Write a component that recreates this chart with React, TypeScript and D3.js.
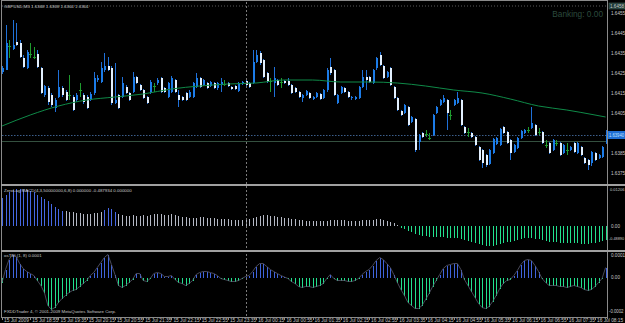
import React from 'react';
import * as d3 from 'd3';

const width = 625;
const height = 323;
const font = '"Liberation Sans", Arial, sans-serif';

// GBPUSD M5, 172 bars, 15 Jul 18:15 .. 16 Jul 08:30
const openPrices = [
  1.64255, 1.64265, 1.64385, 1.64370, 1.64405, 1.64400, 1.64325, 1.64275, 1.64345, 1.64330,
  1.64345, 1.64275, 1.64140, 1.64175, 1.64140, 1.64075, 1.64130, 1.64175, 1.64155, 1.64140,
  1.64130, 1.64115, 1.64165, 1.64140, 1.64130, 1.64115, 1.64150, 1.64215, 1.64205, 1.64265,
  1.64285, 1.64275, 1.64100, 1.64140, 1.64130, 1.64180, 1.64150, 1.64155, 1.64230, 1.64190,
  1.64165, 1.64130, 1.64150, 1.64185, 1.64200, 1.64225, 1.64175, 1.64130, 1.64155, 1.64215,
  1.64140, 1.64130, 1.64150, 1.64130, 1.64130, 1.64180, 1.64225, 1.64190, 1.64200, 1.64185,
  1.64200, 1.64175, 1.64190, 1.64195, 1.64200, 1.64180, 1.64185, 1.64160, 1.64195, 1.64210,
  1.64200, 1.64200, 1.64305, 1.64350, 1.64315, 1.64250, 1.64210, 1.64200, 1.64215, 1.64205,
  1.64210, 1.64210, 1.64190, 1.64175, 1.64155, 1.64125, 1.64140, 1.64150, 1.64120, 1.64130,
  1.64145, 1.64125, 1.64165, 1.64280, 1.64265, 1.64100, 1.64150, 1.64175, 1.64155, 1.64125,
  1.64120, 1.64125, 1.64180, 1.64230, 1.64230, 1.64200, 1.64275, 1.64340, 1.64285, 1.64230,
  1.64275, 1.64180, 1.64125, 1.64060, 1.64050, 1.64080, 1.64005, 1.64020, 1.63905, 1.63950,
  1.63945, 1.63925, 1.63940, 1.64050, 1.64090, 1.64105, 1.64115, 1.64040, 1.64090, 1.64100,
  1.64115, 1.63980, 1.63955, 1.63950, 1.63930, 1.63880, 1.63865, 1.63840, 1.63795, 1.63850,
  1.63895, 1.63890, 1.63980, 1.63955, 1.63915, 1.63855, 1.63875, 1.63925, 1.63950, 1.63965,
  1.63975, 1.63990, 1.63955, 1.63955, 1.63890, 1.63900, 1.63865, 1.63900, 1.63900, 1.63850,
  1.63865, 1.63865, 1.63900, 1.63850, 1.63880, 1.63825, 1.63815, 1.63800, 1.63850, 1.63825,
  1.63830, 1.63900,
];

const highPrices = [
  1.64285, 1.64490, 1.64415, 1.64515, 1.64500, 1.64415, 1.64340, 1.64365, 1.64400, 1.64380,
  1.64365, 1.64280, 1.64190, 1.64185, 1.64150, 1.64125, 1.64265, 1.64185, 1.64165, 1.64240,
  1.64140, 1.64150, 1.64200, 1.64150, 1.64140, 1.64155, 1.64255, 1.64240, 1.64305, 1.64350,
  1.64330, 1.64285, 1.64300, 1.64145, 1.64230, 1.64190, 1.64155, 1.64255, 1.64235, 1.64195,
  1.64170, 1.64135, 1.64215, 1.64200, 1.64225, 1.64230, 1.64180, 1.64205, 1.64235, 1.64220,
  1.64165, 1.64135, 1.64155, 1.64165, 1.64205, 1.64250, 1.64230, 1.64220, 1.64205, 1.64210,
  1.64205, 1.64205, 1.64225, 1.64215, 1.64205, 1.64185, 1.64190, 1.64205, 1.64210, 1.64215,
  1.64205, 1.64365, 1.64365, 1.64360, 1.64320, 1.64255, 1.64225, 1.64280, 1.64220, 1.64225,
  1.64215, 1.64225, 1.64195, 1.64180, 1.64160, 1.64145, 1.64165, 1.64155, 1.64135, 1.64155,
  1.64150, 1.64170, 1.64275, 1.64325, 1.64270, 1.64145, 1.64185, 1.64180, 1.64160, 1.64135,
  1.64135, 1.64185, 1.64265, 1.64265, 1.64235, 1.64270, 1.64330, 1.64355, 1.64290, 1.64260,
  1.64280, 1.64185, 1.64130, 1.64065, 1.64095, 1.64085, 1.64035, 1.64025, 1.63945, 1.63955,
  1.63965, 1.63950, 1.64045, 1.64085, 1.64120, 1.64140, 1.64120, 1.64065, 1.64120, 1.64155,
  1.64120, 1.63985, 1.63975, 1.63955, 1.63935, 1.63885, 1.63870, 1.63845, 1.63870, 1.63925,
  1.63930, 1.63975, 1.63985, 1.63960, 1.63920, 1.63895, 1.63930, 1.63965, 1.63970, 1.63980,
  1.64080, 1.63995, 1.63975, 1.63960, 1.63915, 1.63905, 1.63920, 1.63915, 1.63905, 1.63895,
  1.63900, 1.63885, 1.63905, 1.63905, 1.63885, 1.63830, 1.63820, 1.63860, 1.63855, 1.63845,
  1.63885, 1.63965,
];

const lowPrices = [
  1.64245, 1.64265, 1.64325, 1.64365, 1.64385, 1.64325, 1.64275, 1.64270, 1.64325, 1.64320,
  1.64275, 1.64145, 1.64130, 1.64090, 1.64080, 1.64055, 1.64125, 1.64130, 1.64110, 1.64115,
  1.64060, 1.64105, 1.64130, 1.64095, 1.64070, 1.64110, 1.64140, 1.64205, 1.64200, 1.64255,
  1.64260, 1.64090, 1.64095, 1.64070, 1.64125, 1.64145, 1.64110, 1.64150, 1.64195, 1.64160,
  1.64120, 1.64095, 1.64145, 1.64155, 1.64190, 1.64150, 1.64150, 1.64125, 1.64150, 1.64150,
  1.64080, 1.64110, 1.64110, 1.64125, 1.64125, 1.64175, 1.64175, 1.64185, 1.64170, 1.64180,
  1.64170, 1.64165, 1.64155, 1.64185, 1.64180, 1.64165, 1.64165, 1.64155, 1.64190, 1.64185,
  1.64175, 1.64195, 1.64300, 1.64290, 1.64225, 1.64200, 1.64155, 1.64130, 1.64185, 1.64175,
  1.64195, 1.64185, 1.64145, 1.64150, 1.64125, 1.64105, 1.64135, 1.64120, 1.64115, 1.64125,
  1.64115, 1.64120, 1.64155, 1.64240, 1.64135, 1.64095, 1.64145, 1.64150, 1.64125, 1.64115,
  1.64115, 1.64120, 1.64175, 1.64165, 1.64200, 1.64195, 1.64265, 1.64285, 1.64220, 1.64225,
  1.64185, 1.64120, 1.64060, 1.64035, 1.64045, 1.63985, 1.64000, 1.63855, 1.63865, 1.63925,
  1.63930, 1.63915, 1.63935, 1.64045, 1.64085, 1.64100, 1.63965, 1.64015, 1.64085, 1.64095,
  1.63985, 1.63945, 1.63930, 1.63925, 1.63885, 1.63810, 1.63775, 1.63780, 1.63790, 1.63845,
  1.63890, 1.63885, 1.63945, 1.63895, 1.63815, 1.63850, 1.63870, 1.63920, 1.63945, 1.63950,
  1.63970, 1.63935, 1.63940, 1.63895, 1.63875, 1.63845, 1.63860, 1.63885, 1.63835, 1.63845,
  1.63840, 1.63860, 1.63850, 1.63845, 1.63835, 1.63795, 1.63765, 1.63785, 1.63810, 1.63820,
  1.63825, 1.63895,
];

const closePrices = [
  1.64275, 1.64400, 1.64385, 1.64390, 1.64390, 1.64330, 1.64280, 1.64355, 1.64345, 1.64330,
  1.64280, 1.64150, 1.64185, 1.64105, 1.64090, 1.64115, 1.64180, 1.64140, 1.64115, 1.64140,
  1.64065, 1.64140, 1.64165, 1.64105, 1.64075, 1.64145, 1.64225, 1.64225, 1.64275, 1.64285,
  1.64265, 1.64100, 1.64115, 1.64075, 1.64200, 1.64150, 1.64115, 1.64230, 1.64200, 1.64165,
  1.64125, 1.64100, 1.64205, 1.64185, 1.64215, 1.64155, 1.64155, 1.64200, 1.64225, 1.64155,
  1.64115, 1.64115, 1.64115, 1.64155, 1.64200, 1.64225, 1.64180, 1.64215, 1.64175, 1.64205,
  1.64175, 1.64200, 1.64205, 1.64195, 1.64185, 1.64170, 1.64170, 1.64200, 1.64205, 1.64190,
  1.64180, 1.64305, 1.64340, 1.64300, 1.64230, 1.64205, 1.64210, 1.64225, 1.64190, 1.64205,
  1.64200, 1.64190, 1.64150, 1.64155, 1.64130, 1.64140, 1.64160, 1.64125, 1.64130, 1.64150,
  1.64120, 1.64165, 1.64265, 1.64250, 1.64140, 1.64140, 1.64180, 1.64155, 1.64130, 1.64130,
  1.64130, 1.64180, 1.64230, 1.64215, 1.64205, 1.64265, 1.64325, 1.64290, 1.64225, 1.64255,
  1.64190, 1.64125, 1.64065, 1.64040, 1.64090, 1.63990, 1.64030, 1.63865, 1.63940, 1.63930,
  1.63945, 1.63925, 1.64040, 1.64080, 1.64115, 1.64125, 1.64050, 1.64040, 1.64115, 1.64125,
  1.63990, 1.63950, 1.63955, 1.63930, 1.63890, 1.63815, 1.63800, 1.63790, 1.63865, 1.63920,
  1.63925, 1.63970, 1.63950, 1.63900, 1.63850, 1.63890, 1.63925, 1.63960, 1.63965, 1.63965,
  1.64000, 1.63940, 1.63955, 1.63900, 1.63890, 1.63850, 1.63915, 1.63900, 1.63840, 1.63890,
  1.63865, 1.63880, 1.63855, 1.63900, 1.63840, 1.63800, 1.63790, 1.63855, 1.63815, 1.63840,
  1.63880, 1.63940,
];

// moving average read at every 8th bar (and the last one)
const maBars = [0, 8, 16, 24, 32, 40, 48, 56, 64, 72, 80, 88, 96, 104, 112, 120, 128, 136, 144, 152, 160, 168, 171];
const maValues = [
  1.63985, 1.64040, 1.64085, 1.64115, 1.64130, 1.64145, 1.64170, 1.64185, 1.64195, 1.64200, 1.64215, 1.64215,
  1.64205, 1.64205, 1.64200, 1.64185, 1.64165, 1.64150, 1.64120, 1.64085, 1.64065, 1.64040, 1.64030,
];

const priceTicks = [1.6455, 1.6445, 1.6435, 1.6425, 1.6415, 1.6405, 1.6385, 1.6375];
const topLinePrice = 1.64585;
const topLineLabel = '1.6458';
const greyLinePrice = 1.6391;

// ZeroLag MACD histogram
const macdValues = [
  0.0084, 0.0093, 0.0102, 0.0108, 0.0111, 0.0111, 0.0111, 0.0108, 0.0105, 0.0102,
  0.0093, 0.0087, 0.0081, 0.0075, 0.0066, 0.0057, 0.0051, 0.0045, 0.0045, 0.0042,
  0.0042, 0.0039, 0.0039, 0.0036, 0.0036, 0.0036, 0.0039, 0.0039, 0.0042, 0.0048,
  0.0054, 0.0051, 0.0042, 0.0036, 0.0033, 0.0030, 0.0030, 0.0033, 0.0030, 0.0030,
  0.0033, 0.0030, 0.0033, 0.0036, 0.0036, 0.0036, 0.0033, 0.0033, 0.0036, 0.0033,
  0.0030, 0.0027, 0.0027, 0.0024, 0.0024, 0.0024, 0.0027, 0.0027, 0.0024, 0.0024,
  0.0024, 0.0021, 0.0021, 0.0021, 0.0021, 0.0018, 0.0018, 0.0018, 0.0018, 0.0021,
  0.0021, 0.0024, 0.0027, 0.0030, 0.0033, 0.0033, 0.0030, 0.0030, 0.0027, 0.0027,
  0.0024, 0.0024, 0.0021, 0.0021, 0.0018, 0.0018, 0.0015, 0.0015, 0.0015, 0.0015,
  0.0015, 0.0015, 0.0015, 0.0018, 0.0018, 0.0018, 0.0018, 0.0018, 0.0015, 0.0015,
  0.0015, 0.0015, 0.0018, 0.0018, 0.0018, 0.0018, 0.0021, 0.0021, 0.0018, 0.0015,
  0.0012, 0.0009, 0.0003, -0.0006, -0.0009, -0.0015, -0.0018, -0.0024, -0.0027, -0.0030,
  -0.0030, -0.0033, -0.0033, -0.0033, -0.0033, -0.0033, -0.0036, -0.0036, -0.0036, -0.0036,
  -0.0039, -0.0042, -0.0045, -0.0048, -0.0051, -0.0054, -0.0057, -0.0060, -0.0060, -0.0060,
  -0.0057, -0.0054, -0.0051, -0.0048, -0.0048, -0.0045, -0.0042, -0.0039, -0.0036, -0.0036,
  -0.0036, -0.0039, -0.0039, -0.0042, -0.0045, -0.0048, -0.0048, -0.0048, -0.0051, -0.0051,
  -0.0051, -0.0051, -0.0051, -0.0051, -0.0054, -0.0054, -0.0054, -0.0051, -0.0051, -0.0048,
  -0.0045, -0.0042,
];
// bars where the MACD is drawn in its "rising" colour
const macdRisingRanges = [[0, 17], [29, 32]];
const macdLegend = 'ZeroLag MACD(4,3,50000000,6,8) 0.000000 -0.487934 0.000000';
const macdAxisLabels = ['0.01206', '0.00', '-0.48890'];

// osTSI histogram, in units of 1e-5
const tsiValues = [
  -2.5, 4, 9, 11.5, 10.5, 7, 4.5, 3, 2, 1,
  -1.5, -4, -7.5, -14, -16, -15, -12.5, -10.5, -9, -7.5,
  -6.5, -6, -4.5, -3, -1.5, 1, 2.5, 5, 7.5, 10,
  11.5, 6.5, 1.5, -4, -5, -4, -2.5, -1, 2, 2,
  -1.5, -2, -0.5, 2, 2.5, 2, 0.5, 0.5, 1, -1,
  -2.5, -3, -4, -3, -1.5, 1.5, 2.5, 3, 3, 2.5,
  2, 1, -0.5, -1, -1.5, -2, -2, -1.5, -0.5, 0.5,
  1, 3, 5.5, 7, 7, 5.5, 4, 3, 2, 1,
  0.25, -0.5, -2, -3, -4.5, -5, -4.5, -4.5, -5, -4.5,
  -4, -3, -0.5, 1.5, -0.5, -1.5, -1.5, -1.5, -2, -2,
  -1.5, -0.5, 1.5, 3, 4, 6, 8.5, 10, 9, 7,
  5, 1.5, -2.5, -6, -9, -12.5, -14, -15.5, -15.5, -14,
  -11, -8, -4.5, -1.5, 1.5, 4.5, 6, 6.5, 7, 7,
  4, -1, -4, -7, -10, -13, -15, -15.5, -14.5, -12,
  -9, -5.5, -3, -1.5, -1, 1, 3.5, 6.5, 8.5, 9,
  8.5, 6, 3, -0.5, -2.5, -4, -4, -4, -4.5, -4.5,
  -5, -4.5, -4, -4.5, -5, -6, -6.5, -6, -4.5, -2.5,
  -0.5, 5,
];
const tsiLegend = 'osTSI (1, 8) 0.0001';
const tsiAxisLabels = ['0.0001', '0.00', '-0.0002'];

// one label every 8 bars (40 minutes)
const timeLabels = [
  '15 Jul 2009', '15 Jul 18:55', '15 Jul 19:35', '15 Jul 20:15', '15 Jul 20:55', '15 Jul 21:35',
  '15 Jul 22:15', '15 Jul 22:55', '15 Jul 23:35', '16 Jul 00:15', '16 Jul 00:55', '16 Jul 01:35',
  '16 Jul 02:15', '16 Jul 02:55', '16 Jul 03:35', '16 Jul 04:15', '16 Jul 04:55', '16 Jul 05:35',
  '16 Jul 06:15', '16 Jul 06:55', '16 Jul 07:35', '16 Jul 08:15',
];
const labelEvery = 8;
const daySeparatorBar = 69; // 16 Jul 00:00

const title = 'GBPUSD,M5  1.6368 1.6368 1.6364 1.6364';
const comment = 'Banking: 0.00';
const copyright = 'FXDDTrader 4, \u00a9 2001-2009 MetaQuotes Software Corp.';

const colors = {
  bg: '#000000',
  frame: '#8a8a8a',
  text: '#c8c8c8',
  bull: '#1c7ce8',
  bear: '#e2f0ff',
  wick: '#1f70d8',
  doji: '#1e9b2e',
  ma: '#0f8a48',
  macdUp: '#4668e4',
  macdFlat: '#b4b8c4',
  negative: '#22e08e',
  tsiUp: '#3f63dc',
  tsiLine: '#5b5b6e',
};

const plotLeft = 2;
const plotRight = 607;
const mainTop = 2;
const mainBottom = 184;
const macdTop = 187;
const macdBottom = 250;
const tsiTop = 252;
const tsiBottom = 317;

export default function App() {
  const n = closePrices.length;
  const x = d3.scaleLinear().domain([0, n - 1]).range([2, 605.6]);
  const y = d3.scaleLinear().domain([1.6375, 1.6455]).range([173, 13]);
  const yMacd = d3.scaleLinear().domain([-0.0072, 0.0117]).range([macdBottom, macdTop]);
  const yTsi = d3.scaleLinear().domain([-19.75, 12.75]).range([tsiBottom, tsiTop]);

  const maLine = d3.line<number>()
    .x((_, i) => x(maBars[i]))
    .y((d) => y(d))
    .curve(d3.curveMonotoneX);

  const tsiLine = d3.line<number>()
    .x((_, i) => x(i))
    .y((d) => yTsi(d));

  const isRising = (i: number) => macdRisingRanges.some(([a, b]) => i >= a && i <= b);
  const lastClose = closePrices[n - 1];
  const txt = { fontFamily: font, fill: colors.text };
  const axisX = plotRight + 2;

  return (
    <svg width={width} height={height} style={{ position: 'absolute', left: 0, top: 0, display: 'block' }}>
      <rect width={width} height={height} fill={colors.bg} />

      {/* main pane lines */}
      <line x1={plotLeft} x2={plotRight} y1={y(topLinePrice)} y2={y(topLinePrice)} stroke="#5a5a5a" strokeDasharray="1,2" />
      <line x1={plotLeft} x2={plotRight} y1={y(greyLinePrice) + 0.5} y2={y(greyLinePrice) + 0.5} stroke="#34503f" />
      <line x1={plotLeft} x2={plotRight} y1={y(lastClose) + 0.5} y2={y(lastClose) + 0.5} stroke="#3c5f8c" strokeDasharray="1.5,1.5" />

      {/* candles */}
      <g shapeRendering="crispEdges">
        {closePrices.map((c, i) => {
          const o = openPrices[i];
          const cx = Math.round(x(i)) + 0.5;
          const kind = c > o ? 'bull' : c < o ? 'bear' : 'doji';
          const wickColor = kind === 'doji' ? colors.doji : colors.wick;
          const top = y(Math.max(o, c));
          const bot = y(Math.min(o, c));
          return (
            <g key={i}>
              <line x1={cx} x2={cx} y1={y(highPrices[i])} y2={y(lowPrices[i])} stroke={wickColor} />
              {kind === 'doji' ? (
                <line x1={cx - 1.5} x2={cx + 1.5} y1={top} y2={top} stroke={colors.doji} />
              ) : (
                <rect x={cx - 1} y={top} width={2} height={Math.max(bot - top, 1)}
                  fill={kind === 'bull' ? colors.bull : colors.bear} />
              )}
            </g>
          );
        })}
      </g>

      <path d={maLine(maValues) || ''} fill="none" stroke={colors.ma} strokeWidth={1} />

      {/* MACD pane */}
      <g shapeRendering="crispEdges">
        {macdValues.map((v, i) => (
          <line key={i} x1={Math.round(x(i)) + 0.5} x2={Math.round(x(i)) + 0.5}
            y1={yMacd(0)} y2={yMacd(v)}
            stroke={v < 0 ? colors.negative : isRising(i) ? colors.macdUp : colors.macdFlat} strokeWidth={1} />
        ))}
      </g>

      {/* TSI pane */}
      <g shapeRendering="crispEdges">
        {tsiValues.map((v, i) => (
          <line key={i} x1={Math.round(x(i)) + 0.5} x2={Math.round(x(i)) + 0.5}
            y1={yTsi(0)} y2={yTsi(v)}
            stroke={v < 0 ? colors.negative : colors.tsiUp} strokeWidth={1} />
        ))}
      </g>
      <path d={tsiLine(tsiValues) || ''} fill="none" stroke={colors.tsiLine} strokeWidth={0.8} />

      {/* day separator */}
      <line x1={Math.round(x(daySeparatorBar)) + 0.5} x2={Math.round(x(daySeparatorBar)) + 0.5}
        y1={mainTop} y2={tsiBottom} stroke="#7a7a7a" strokeDasharray="2,2" />

      {/* frame & separators */}
      <g shapeRendering="crispEdges">
        <line x1={1.5} x2={1.5} y1={0} y2={tsiBottom} stroke={colors.frame} />
        <line x1={plotRight + 0.5} x2={plotRight + 0.5} y1={0} y2={tsiBottom + 2} stroke={colors.frame} />
        <line x1={1} x2={plotRight} y1={0.5} y2={0.5} stroke={colors.frame} />
        <rect x={1} y={mainBottom} width={width} height={2} fill="#a0a0a0" />
        <rect x={1} y={macdBottom} width={width} height={2} fill="#a0a0a0" />
        <line x1={1} x2={plotRight} y1={tsiBottom + 0.5} y2={tsiBottom + 0.5} stroke={colors.frame} />
        {timeLabels.map((_, k) => (
          <line key={k} x1={Math.round(x(k * labelEvery)) + 0.5} x2={Math.round(x(k * labelEvery)) + 0.5}
            y1={tsiBottom} y2={tsiBottom + 3} stroke={colors.frame} />
        ))}
      </g>

      {/* texts */}
      <text x={4} y={7.5} fontSize={4.4} {...txt}>{title}</text>
      <text x={603} y={17} fontSize={8.3} textAnchor="end" fontFamily={font} fill="#2c4a3e">{comment}</text>
      <text x={4} y={191.5} fontSize={4.4} {...txt}>{macdLegend}</text>
      <text x={4} y={257} fontSize={4.4} {...txt}>{tsiLegend}</text>
      <text x={4} y={313} fontSize={4.4} {...txt}>{copyright}</text>

      {priceTicks.map((t) => (
        <text key={t} x={axisX + 2} y={y(t) + 1.8} fontSize={4.6} {...txt}>{t.toFixed(4)}</text>
      ))}
      <rect x={609} y={y(topLinePrice) - 3} width={16} height={6} fill="#1e3a36" stroke="#4f6e66" strokeWidth={0.5} />
      <text x={610} y={y(topLinePrice) + 1.8} fontSize={4.6} {...txt}>{topLineLabel}</text>
      <rect x={608} y={y(lastClose) - 4} width={17} height={8} fill="#1f6ed4" />
      <text x={609} y={y(lastClose) + 1.8} fontSize={4.6} textLength={15} lengthAdjust="spacingAndGlyphs"
        fontFamily={font} fill="#bfe0ff">{lastClose.toFixed(5)}</text>

      <text x={axisX + 1} y={yMacd(0.0117) + 4} fontSize={4.4} textLength={14.5} lengthAdjust="spacingAndGlyphs" {...txt}>{macdAxisLabels[0]}</text>
      <text x={axisX + 2} y={yMacd(0) + 1.8} fontSize={4.6} {...txt}>{macdAxisLabels[1]}</text>
      <text x={axisX} y={yMacd(-0.0037) + 1.8} fontSize={4.4} textLength={15} lengthAdjust="spacingAndGlyphs" {...txt}>{macdAxisLabels[2]}</text>

      <text x={axisX + 2} y={yTsi(11) + 1.8} fontSize={4.6} {...txt}>{tsiAxisLabels[0]}</text>
      <text x={axisX + 2} y={yTsi(0) + 1.8} fontSize={4.6} {...txt}>{tsiAxisLabels[1]}</text>
      <text x={axisX} y={yTsi(-17) + 1.8} fontSize={4.6} textLength={14.5} lengthAdjust="spacingAndGlyphs" {...txt}>{tsiAxisLabels[2]}</text>

      {timeLabels.map((label, k) => (
        <text key={label} x={x(k * labelEvery) + 2} y={322} fontSize={4.8} {...txt}>{label}</text>
      ))}
    </svg>
  );
}
